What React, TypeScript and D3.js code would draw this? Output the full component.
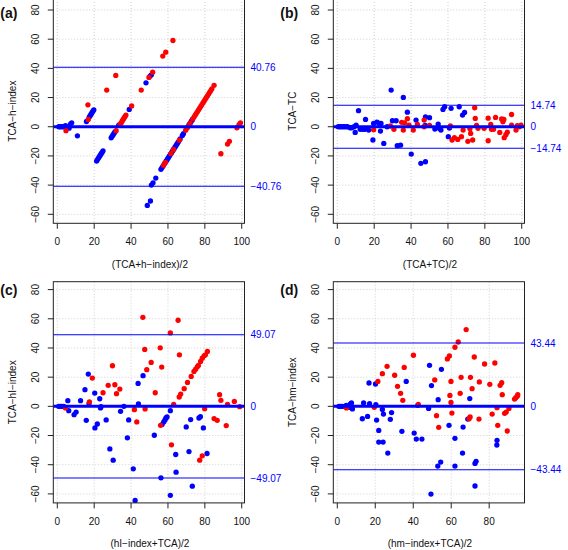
import React from "react";
import * as d3 from "d3";

type Pt = [number, number];

// ---------- Panel (a): TCA vs h-index ----------
const aBlue: Pt[] = [
  [0.8, 0], [1.6, 0], [2.5, 0], [3.4, 0], [4.4, 0.7], [5.8, 0], [6.4, -1], [7.1, 1.8], [7.8, 2.7], [10.9, -6.2],
  [15.8, 3.6], [17.3, 6.6], [17.8, 7.6], [18.3, 8.6], [18.8, 9.6], [19.3, 10.6], [19.8, 11.6],
  [21.3, -23.5], [21.8, -22.5], [22.3, -21.5], [22.8, -20.5], [23.3, -19.5], [23.8, -18.5], [24.3, -17.5], [24.8, -16.5],
  [29.2, -7.6], [29.7, -6.6], [30.2, -5.6], [30.7, -4.6], [31.2, -3.6],
  [33.3, 1.1], [39, 11.9], [48.1, 30.1], [50.3, 34.7], [51, 35.6],
  [48.8, -53.9], [50.5, -50.9], [51, -40], [51.9, -38.4], [53.4, -35.2],
  [56.2, -29.2], [56.8, -28], [57.4, -26.8], [58.2, -25.2], [59, -23.6], [59.6, -22.4], [60.2, -21.2], [60.8, -20],
  [61.4, -18.8], [62, -17.6], [62.6, -16.4], [63.2, -15.2], [63.8, -14], [64.4, -12.8], [65, -11.6], [65.6, -10.4],
  [66.6, -8.4], [67.8, -6], [68.4, -4.8],
  [71.4, 1.2], [71.9, 2.2], [72.4, 3.2], [72.9, 4.2], [73.3, 5],
];
const aRed: Pt[] = [
  [4.7, -2.7], [16.8, 5], [16.6, 15], [26.8, 25.1], [31.7, 35.2], [31.9, -2.7],
  [34, 1.8], [34.7, 2.8], [35.2, 4], [35.7, 5], [36.2, 6], [36.7, 7], [37.2, 8],
  [40.3, 14.2], [45.5, 25.1], [49.7, 33.8], [51.7, 37.4], [57.2, 48.4], [58.8, 51.1], [62.7, 59.1],
  [57.6, -26.4], [58.6, -24.4], [61.6, -18.4], [63, -15.6], [66.2, -9.2], [69.6, -2.4], [70.4, -0.8], [71, 0.4],
  [72, 2.4], [73.5, 5.4], [74.2, 6.8], [74.8, 8], [75.4, 9.2], [76, 10.4], [76.6, 11.6], [77.2, 12.8], [77.8, 14],
  [78.4, 15.2], [79, 16.4], [79.6, 17.6], [80.2, 18.8], [80.8, 20], [81.4, 21.2], [82, 22.4], [82.6, 23.6],
  [83.2, 24.8], [83.8, 26], [85, 28.4],
  [88.7, -18.5], [92.3, -11.9], [93.3, -10], [97.4, -0.7], [98.5, 1.4], [99.3, 2.7],
];

// ---------- Panel (b): TCA vs TC ----------
const bBlue: Pt[] = [
  [0.5, 0], [1.5, 0], [2.5, 0], [3.5, 0], [4.5, 0], [5.5, 0], [6.9, -0.7], [7.8, -0.7], [9.1, 0], [9.7, -3.9],
  [10.2, 1.1], [11.5, 11], [12.4, -1.8], [13.9, -1.8], [15, -1.8], [15.3, 5], [17, -2.3], [19.3, -9.1], [19.7, 2.3],
  [21.5, 3.2], [22.8, 2.3], [23.4, -3], [23.7, 2.3], [25.2, -11.4], [27, 0], [29.2, 25.1], [29.9, 4.1], [31.9, 4.1],
  [32.5, -13], [34.3, -12.6], [35.8, 20.1], [38, 10], [40.1, -18.7], [42.7, 4.6], [45.3, -25.1], [47.8, -24],
  [47.8, 6.8], [47.6, 0.9], [50, 6.2], [52.9, -1.6], [54.7, 1.8], [55.3, -1.1], [56.2, -2.3], [57.3, 11.9],
  [58.2, 13.7], [60.2, -6.8], [60.8, -0.9], [61.7, 12.6], [66.1, 13.7], [67.9, 8], [69, 9.8],
];
const bRed: Pt[] = [
  [19.7, -2.1], [28.8, 0.5], [30.7, -1.8], [34.9, 3], [35.8, -2.3], [36.5, 2.7], [38, 5.5], [38.9, 1.1],
  [41.2, -2.3], [43.4, 1.6], [47.1, 4.6], [47.1, 0], [50, 0.9], [61.3, 0.5], [62.2, -9.1], [63.5, -7.5],
  [65.3, -8.7], [67.3, -6.8], [68.2, -2.3], [70.8, -10], [71.9, -1.4], [72.3, -4.6], [73.4, -9.1], [74.5, 13],
  [74.8, 5.7], [75.5, 0.9], [76.3, -1.1], [79.6, -1.1], [81.8, 5.9], [81.8, -9.6], [83.2, 1.6], [83.6, -1.8],
  [84.7, -1.8], [85.8, 6.4], [88.1, -3.9], [89.1, 5.3], [89.8, 3.4], [90.3, 5], [90.5, -7.5], [91.4, -5.5],
  [92.2, -3.7], [94.5, 8.4], [94.5, 1.1], [96.9, -2.3], [97.6, 0.7], [98.7, 0], [99.6, 1.1],
];

// ---------- Panel (c): TCA vs hI-index ----------
const cBlue: Pt[] = [
  [0.7, 0], [1.5, 0], [2.5, 0], [3.5, 0], [5.7, 3.9], [6.2, -3], [9.1, -5.7], [10.2, -3.9], [12.6, 3.9],
  [15, 11.4], [15.7, -9.6], [16.8, 22.1], [17.2, 2.1], [20.3, 9.1], [20.4, -14.8], [21.7, -12.1], [23, 5.2],
  [23.4, -1.1], [23.7, -0.2], [26.5, -9.3], [28.5, -29.2], [30.3, -36.9], [34.3, -3.4], [36.1, 0],
  [38, -21.6], [38.7, -9.3], [41.2, -42.8], [42.2, -64.5], [43.8, 15.7], [44, 1.6], [46.5, 21], [52.6, -19.8],
  [56.2, -49], [56.8, -12.5], [57.7, -10.7], [58.4, -9.3], [58.9, -8], [59.5, -7.3], [61.3, -3], [61.3, -61],
  [64.2, -33], [64.4, -45.1], [69.9, -14.1], [71.4, -31], [72.3, -9.1], [73.2, -54.7], [76.8, -8], [77.6, -7.1],
  [79.2, -14.8], [81.2, -32.3],
];
const cRed: Pt[] = [
  [4.4, -1.1], [17.4, 3], [19, 19.4], [24.8, 9.3], [27.6, 14.4], [29.9, 27.8], [31.2, 14.8], [32.1, 8.7],
  [33.9, 11.8], [41.8, -2.3], [43.1, -10.7], [46.4, 61], [47.4, 39], [47.6, -1.8], [48.5, 25.1], [50.9, 30.1],
  [53.1, 9.3], [55.8, 40.1], [56.6, 26.9], [56, -13], [61.3, 50.3], [61.9, -26.4], [63.1, 1.4], [65.5, 59],
  [66.1, 6.4], [66.2, 35.3], [66.9, 8.4], [68.8, 12.1], [70.6, 16.4], [72.6, 20.5], [74.1, 23.9], [75, 25.5],
  [75.9, 27.1], [76.5, 28], [77.7, 30.8], [78.6, 33], [79.6, 34.6], [80.3, 35.3], [81.4, 37.6], [77.2, -36.9],
  [78.6, -33.9], [79.9, -1.6], [85, -8.4], [86.7, -9.6], [88, 8], [88.7, 4.1], [91.6, -13.2], [92.3, 1.4],
  [96, 3.4], [98.9, -0.2],
];

// ---------- Panel (d): TCA vs hm-index ----------
const dBlue: Pt[] = [
  [0.83, 0], [1.59, 0], [2.44, 0], [3.68, 0], [4.72, 0.7], [6.25, -0.7], [6.91, 1.6], [7.48, 2.3], [7.96, -1.8],
  [13.19, -8.5], [13.85, 2.3], [15.95, -6.9], [16.71, 16], [16.99, 1.8], [20.13, 15.3], [20.32, 1.1],
  [20.7, -9.4], [21.84, -16.5], [21.84, -24.5], [23.74, -2.1], [24.13, -24.5], [24.32, -5.3], [26.6, -32],
  [27.93, -8.9], [28.6, -4.3], [34.02, -17.1], [36.3, 17.1], [40.48, -18.3], [41.62, -22.4], [42.38, 0.7],
  [44.57, -22.4], [48.09, -1.4], [48.57, 28.1], [49.33, -60.1], [49.61, 14.2], [52.94, -40.9], [53.13, 4.6],
  [54.46, -38.2], [54.84, 25.4], [58.84, -13], [61.97, -21.9], [61.97, -40.9], [65.97, -32], [66.25, -14.2],
  [68.73, -8.7], [69.77, 5.3], [72.53, -39.1], [73.1, -37.7], [72.53, -54.6], [84.13, -23.3], [84.04, -26.5],
];
const dRed: Pt[] = [
  [4.82, -1.1], [19.47, -0.7], [21.37, 17.1], [23.74, 22.4], [26.22, 27.4], [30.21, 21.3], [31.73, 13.7],
  [33.35, 8.9], [34.49, 4.1], [35.25, 26.7], [40.1, 35], [42.67, 1.4], [51.32, 18.1], [52.27, -6.4],
  [53.42, -14.4], [57.98, 32.5], [59.03, 34.5], [59.31, 7.5], [59.88, 17.1], [59.88, 2.7], [60.36, -4.6],
  [61.97, 40.5], [63.69, 44.1], [64.73, 8.9], [65.21, 19.9], [67.87, 52.6], [69.96, -7.3], [69.39, -8.5],
  [70.15, 19.9], [71, 12.1], [72.15, 33.8], [74.62, -8.7], [74.81, 16.7], [77.57, 29], [80.33, 15.1],
  [81.57, -5.3], [82.99, 29.7], [84.13, -0.9], [84.51, -13], [85.75, 14.4], [86.6, 16.2], [86.89, 8],
  [88.13, -4.8], [88.98, -3.9], [89.55, -16.9], [90.41, -1.4], [93.36, 5], [94.02, 5.9], [94.78, 6.9], [95.07, 8],
];

// ---------- Limits of agreement ----------
const limits = [40.76, 14.74, 49.07, 43.44];
const panelLetters = ["(a)", "(b)", "(c)", "(d)"];
const xTitles = ["(TCA+h\u2212index)/2", "(TCA+TC)/2", "(hI\u2212index+TCA)/2", "(hm\u2212index+TCA)/2"];
const yTitles = ["TCA\u2212h\u2212index", "TCA\u2212TC", "TCA\u2212hI\u2212index", "TCA\u2212hm\u2212index"];
const xTicksFull = [0, 20, 40, 60, 80, 100];
const xTicksD = [0, 20, 40, 60, 80];
const yTicks = [-60, -40, -20, 0, 20, 40, 60, 80];

const blueData = [aBlue, bBlue, cBlue, dBlue];
const redData = [aRed, bRed, cRed, dRed];

const FONT = "'Liberation Sans', Arial, Helvetica, sans-serif";
const BLUE = "#0000ff";
const RED = "#ff0000";

const fmt = (v: number) => (v < 0 ? "\u2212" + Math.abs(v).toFixed(2) : v.toFixed(2));

function Panel({ idx }: { idx: number }) {
  const col = idx % 2;
  const row = Math.floor(idx / 2);
  const ox = col * 280;
  const oy = row * 279.6;
  const left = 53.3;
  const right = 244.5;
  const bottom = 223.3;
  const top = row === 0 ? -1 : 2.1;
  const xDomain = idx === 3 ? [-2.1, 98.6] : [-2.17, 101.5];
  const x = d3.scaleLinear().domain(xDomain).range([left, right]);
  const y = d3.scaleLinear().domain([-60, 80]).range([214.3, 10]);
  const xTicks = idx === 3 ? xTicksD : xTicksFull;
  const lim = limits[idx];
  const r = 2.65;
  return (
    <g transform={`translate(${ox},${oy})`}>
      {/* grid */}
      <g stroke="#cfcfcf" strokeWidth={1} strokeDasharray="1,2">
        {xTicks.map((t) => (
          <line key={"gx" + t} x1={x(t)} x2={x(t)} y1={top} y2={bottom} />
        ))}
        {yTicks.map((t) => (
          <line key={"gy" + t} x1={left} x2={right} y1={y(t)} y2={y(t)} />
        ))}
      </g>
      {/* points */}
      <g>
        {blueData[idx].map((p, i) => (
          <circle key={"b" + i} cx={x(p[0])} cy={y(p[1])} r={r} fill={BLUE} />
        ))}
        {redData[idx].map((p, i) => (
          <circle key={"r" + i} cx={x(p[0])} cy={y(p[1])} r={r} fill={RED} />
        ))}
      </g>
      {/* reference lines */}
      <line x1={left} x2={right} y1={y(0)} y2={y(0)} stroke={BLUE} strokeWidth={3} />
      <line x1={left} x2={right} y1={y(lim)} y2={y(lim)} stroke={BLUE} strokeWidth={1.1} />
      <line x1={left} x2={right} y1={y(-lim)} y2={y(-lim)} stroke={BLUE} strokeWidth={1.1} />
      {/* frame */}
      <rect x={left} y={top} width={right - left} height={bottom - top} fill="none" stroke="#222" strokeWidth={1} />
      {/* axis ticks */}
      <g stroke="#222" strokeWidth={1}>
        {xTicks.map((t) => (
          <line key={"xt" + t} x1={x(t)} x2={x(t)} y1={bottom} y2={bottom + 5.5} />
        ))}
        {yTicks.map((t) => (
          <line key={"yt" + t} x1={left - 5.5} x2={left} y1={y(t)} y2={y(t)} />
        ))}
      </g>
      <g fontFamily={FONT} fontSize={10} fill="#111">
        {xTicks.map((t) => (
          <text key={"xl" + t} x={x(t)} y={245.3} textAnchor="middle">
            {t}
          </text>
        ))}
        {yTicks.map((t) => (
          <text
            key={"yl" + t}
            transform={`translate(38.8,${y(t)}) rotate(-90)`}
            textAnchor="middle"
          >
            {t < 0 ? "\u2212" + Math.abs(t) : t}
          </text>
        ))}
      </g>
      {/* axis titles */}
      <text x={(left + right) / 2 + 1} y={267.5} textAnchor="middle" fontFamily={FONT} fontSize={10} fill="#111">
        {xTitles[idx]}
      </text>
      <text
        transform={`translate(16.2,${(top + bottom) / 2}) rotate(-90)`}
        textAnchor="middle"
        fontFamily={FONT}
        fontSize={10}
        fill="#111"
      >
        {yTitles[idx]}
      </text>
      {/* limit labels */}
      <g fontFamily={FONT} fontSize={10} fill={BLUE}>
        <text x={right + 6} y={y(lim) + 3.6}>{fmt(lim)}</text>
        <text x={right + 6} y={y(0) + 3.6}>0</text>
        <text x={right + 6} y={y(-lim) + 3.6}>{fmt(-lim)}</text>
      </g>
      {/* panel letter */}
      <text x={0.3} y={row === 0 ? 18 : 15.2} fontFamily={FONT} fontSize={14} fontWeight="bold" fill="#111">
        {panelLetters[idx]}
      </text>
    </g>
  );
}

export default function App() {
  return (
    <svg
      width={568}
      height={550}
      viewBox="0 0 568 550"
      style={{ position: "absolute", left: 0, top: 0, background: "#fff" }}
    >
      <rect x={0} y={0} width={568} height={550} fill="#fff" />
      {[0, 1, 2, 3].map((i) => (
        <Panel key={i} idx={i} />
      ))}
    </svg>
  );
}
